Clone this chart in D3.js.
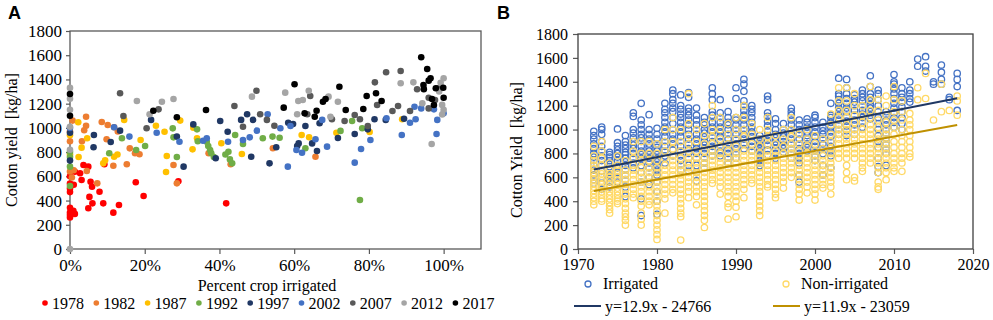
<!DOCTYPE html>
<html>
<head>
<meta charset="utf-8">
<script src="https://cdn.jsdelivr.net/npm/d3@7"></script>
<style>
body { margin: 0; background: #fff; }
text { font-family: "Liberation Serif", "Times New Roman", serif; }
</style>
</head>
<body>
<svg id="chart" width="993" height="320"></svg>
<script>
// ---- panel A data: [percent irrigated, yield kg/ha] per census year
var y1978 = [[0,280],[0,300],[0,260],[0,340],[0,470],[0,500],[0,540],[0,600],[1.3,290],[0.9,315],[1,530],[1.3,638],[2.7,625],[3.1,570],[3.6,694],[4.9,680],[4.9,336],[5.2,430],[5.5,555],[5.9,514],[6,377],[7.9,473],[8.9,377],[9.2,700],[11.6,300],[13.1,363],[17.6,551],[19.7,437],[29,560],[41.8,377]];
var y1982 = [[0.7,1060],[4.3,1092],[4.3,1017],[3.8,980],[3.2,890],[0,890],[0,970],[0,640],[1,650],[0.5,590],[4.5,644],[7.3,542],[8.5,1049],[10.1,1024],[11.8,1005],[12.8,970],[9.8,906],[16,831],[17.4,790],[18.6,782],[11.6,688],[15.2,700],[28.6,542],[27.7,694],[37.1,790],[43,700],[54.3,832],[65.7,762]];
var y1987 = [[0,940],[0,780],[2.2,1046],[4.6,914],[3.1,837],[2.3,760],[8.9,707],[9.4,733],[11.8,762],[12.7,780],[14.5,1066],[18.9,900],[23,1018],[25.3,968],[25.9,768],[25.7,636],[29.5,1060],[33,1002],[32.8,823],[34,914],[40.5,873],[46,785],[62,941],[64,923],[71.3,960],[80.2,966],[88.9,1071]];
var y1992 = [[0,800],[0,760],[0,680],[0,520],[13.9,914],[10.5,790],[17.7,818],[20.1,850],[27.5,996],[27.7,922],[28.6,760],[34,988],[34.2,890],[36.6,886],[37,850],[37.5,818],[37.8,790],[38.5,760],[41.6,780],[42.4,803],[42.8,740],[43.4,707],[44.2,941],[46.3,867],[51.6,914],[54.2,928],[56.1,919],[63,832],[72.4,975],[75.5,1057],[78.2,997],[77.6,405]];
var y1997 = [[0,960],[0,730],[6.4,941],[6.3,840],[13.4,977],[10.9,884],[21.7,1066],[28.6,928],[30.4,680],[33,1029],[39,749],[40.2,1057],[42.2,968],[45.8,1066],[47.4,1112],[49,1066],[48.5,762],[53.4,707],[55.2,840],[58.4,1043],[59.7,1032],[63,1015],[61.2,872],[60.8,850],[64.8,872],[66.1,809],[66.8,1038],[71.7,917],[76.2,950],[79.7,988],[81.5,1071],[84.5,1066],[89.4,1076]];
var y2002 = [[0,1000],[11.8,1005],[15.9,928],[23.2,960],[29.3,886],[35.6,894],[36.6,914],[42.3,886],[46.3,900],[48.1,922],[50,977],[52.9,1112],[56.3,997],[59,1015],[60.6,818],[62.1,795],[58.3,680],[65.7,906],[67.5,1066],[68.8,845],[76.2,713],[77.9,826],[80.4,900],[84.7,1080],[88.8,941],[91,1043],[92.5,1071],[92.2,1175],[94,1161],[97.4,1153],[98.3,1066],[98.1,950],[100,1120]];
var y2007 = [[13.4,1286],[14.3,1098],[20.5,997],[23.7,1153],[44,1181],[46.3,1010],[49.9,1307],[50.9,1112],[52.7,1066],[54.7,1018],[63.5,1112],[64.3,1263],[70.1,1071],[73.5,1057],[76.2,1106],[77.6,1071],[79.7,1015],[81.6,1376],[82.2,1189],[84.6,1459],[86.3,1140],[87.8,1181],[88.5,1470],[91,1140],[92.9,1319],[96,1249],[96,1161],[98.5,1327],[97.7,1230]];
var y2012 = [[0,0],[0,1330],[0,1240],[0,1150],[0,1010],[0,820],[17.9,1222],[21.3,1112],[24.6,1216],[27.7,1239],[48.7,1258],[57.6,1291],[60.8,1112],[61.1,1222],[62.3,1230],[63.9,1307],[69.2,1258],[69.7,1092],[71.7,1216],[88.5,1368],[91.9,1376],[94.3,1203],[96.8,867],[99.2,1373],[100,1410],[99.6,1110],[100,1150],[99.6,1190],[98.8,1300]];
var y2017 = [[0,1280],[0,1100],[22.3,1142],[28.6,1088],[36.4,1148],[57.2,1167],[60.1,1360],[62.8,1120],[65.5,1092],[66,1142],[67.7,1216],[68.4,1239],[72.1,1340],[73.8,1148],[78.5,1156],[79.4,1263],[81.9,1286],[83.4,1222],[94,1583],[95.6,1486],[96.5,1410],[96,1390],[94.6,1354],[94.7,1320],[97.9,1327],[99.9,1332],[96.9,1239],[97.4,1189],[100,1249]];

var censusYears = ["1978","1982","1987","1992","1997","2002","2007","2012","2017"];
var censusData = [y1978, y1982, y1987, y1992, y1997, y2002, y2007, y2012, y2017];
var censusColors = ["#ff0000","#ed7d31","#ffc000","#70ad47","#203864","#4472c4","#595959","#a5a5a5","#000000"];

var pctTicks = [0, 20, 40, 60, 80, 100];
var yieldTicks = [0, 200, 400, 600, 800, 1000, 1200, 1400, 1600, 1800];

// ---- panel B data: county yields per year
var yearsB = [1972,1973,1974,1975,1976,1977,1978,1979,1980,1981,1982,1983,1984,1985,1986,1987,1988,1989,1990,1991,1992,1993,1994,1995,1996,1997,1998,1999,2000,2001,2002,2003,2004,2005,2006,2007,2008,2009,2010,2011,2012,2013,2014,2015,2016,2017,2018];
var irrigated = [
  [985,950,920,880,840,800,770,740,700,660,620,580,550],
  [1020,1000,960,900,860,820,780,740,700,650,600,550,500],
  [810,790,770,740,710,690,660,620,590,560,520],
  [1005,890,860,830,800,770,740,700,680,640,600,560],
  [950,900,870,840,810,790,760,730,700,660,620,580,520,440],
  [1140,1110,1000,970,930,900,870,840,800,760,720,680],
  [1220,1080,1040,1000,960,930,900,860,820,790,760,700,640,560,420,280],
  [1125,1000,960,920,880,850,820,790,760,720,680,600,540],
  [1010,960,920,880,850,820,790,760,730,700,660,620,560,480,400,290],
  [1220,1170,1140,1100,1060,1020,980,940,900,860,820,780,720],
  [1330,1300,1250,1220,1180,1150,1100,1050,1000,960,920,880,830,780],
  [1290,1200,1170,1130,1100,1060,1020,980,940,900,860,820,780,740,700,660],
  [1310,1270,1180,1150,1120,1080,1040,1000,960,920,880,840,800,760,700,650],
  [1180,1120,1080,1040,1000,960,920,880,840,800,760,700,640,570],
  [1100,1060,1040,1000,970,940,900,870,840,800,760,720,680],
  [1350,1300,1250,1150,1120,1100,1060,1020,980,940,900,860,820,780],
  [1250,1140,1100,1060,1020,980,940,900,860,820,780],
  [1150,1100,1060,1040,1000,960,920,880,840,800,760,720],
  [1350,1260,1100,1080,1040,1000,960,920,880,840,800,760],
  [1420,1380,1320,1240,1200,1160,1120,1080,1040,1000,960,920,880,840],
  [1200,1170,1140,1100,1060,1020,980,940,900,860,820],
  [950,920,900,880,860,840,820,800,780,760,740,720,700],
  [1280,1250,1140,1110,1070,1030,990,950,910,870,830,790],
  [1090,1050,1000,960,930,900,870,840,800,760],
  [1050,1000,970,940,900,870,840,810],
  [1180,1150,1120,1080,1040,1000,960,920,880,840,800,760],
  [1080,1040,1000,960,920,880,840,800,760,720,620,560],
  [1090,1060,1020,980,950,920,880,850,820],
  [1120,1100,1060,1020,980,940,900,860,820,780,740],
  [1060,1020,990,960,920,880,840,800,700,620],
  [1220,1120,1100,1060,1020,980,940,900,860,820,780,680],
  [1430,1300,1280,1250,1220,1180,1150,1120,1080,1040,1000,960],
  [1420,1350,1300,1260,1220,1180,1150,1110,1070,1030,990,950],
  [1290,1260,1230,1200,1160,1120,1080,1040,1000,960],
  [1330,1300,1270,1240,1200,1160,1130,1100,1060,1020],
  [1450,1360,1300,1270,1240,1210,1180,1150,1120,1090],
  [1330,1300,1250,1200,1150,1100,1050,1000,950,900,850,760,690,640],
  [1150,1120,1080,1040,1000,960,920,880,840,800,700],
  [1460,1400,1380,1340,1300,1260,1220,1180,1140,1100,1060,1020],
  [1350,1300,1270,1230,1190,1150,1100,1050,1000],
  [1400,1330,1300,1260,1230],
  [1590,1530],
  [1610,1530,1490],
  [1400,1380],
  [1540,1480,1420,1380],
  [1270,1250],
  [1470,1420,1360,1160]
];
var nonIrrigated = [
  [860,780,740,700,670,640,610,580,550,520,490,460,430,400,370],
  [900,820,760,700,660,630,600,570,540,510,480,450,420,400],
  [720,660,630,600,570,540,510,480,450,420,390,360,330,300],
  [780,700,660,630,600,570,540,510,480,450,420,400,380],
  [740,660,620,580,540,500,460,420,380,340,300,270,240,200],
  [900,820,760,700,660,620,580,540,500,460,430],
  [900,800,740,680,640,600,560,520,480,440,400,360,300,250,200],
  [900,800,740,680,640,600,560,520,480,440,400,370],
  [880,800,740,680,640,600,560,520,480,440,400,360,320,280,240,200,160,120,80],
  [1000,900,820,760,700,660,620,580,540,500,460,420,300],
  [1100,1000,900,840,780,740,700,660,620,580,540,500,470],
  [1000,900,820,760,700,660,620,580,540,500,460,420,380,340,300,270,75],
  [1300,1050,950,880,820,760,720,680,640,600,560,520,480,430],
  [1000,900,820,760,720,680,640,600,560,520,480,440,370],
  [1050,950,880,820,760,720,680,640,600,560,520,480,440,400,360,320,280,240,180],
  [1200,1100,1000,940,880,820,780,740,700,660,620,580,550],
  [1100,1000,920,860,800,760,720,680,640,600,560,520,460],
  [1050,960,880,820,760,720,680,640,600,560,520,480,440,380,350,250],
  [1100,1000,920,860,800,760,720,680,640,600,560,520,480,440,400,350,270],
  [1200,1100,1000,940,880,820,780,740,700,660,620,580,540,500,430],
  [1050,960,880,820,780,740,700,660,620,580,550],
  [1000,920,860,800,760,720,680,640,600,560,520,480,440,400,360,320,280],
  [1100,1000,940,880,820,780,740,700,660,620,580,540,520],
  [950,880,820,780,740,700,660,620,580,540,500,460,430],
  [1000,920,860,800,760,720,680,640,600,560,510],
  [1100,1000,940,880,840,800,760,720,680,640,600],
  [960,880,820,780,740,700,660,620,580,540,500,460,410],
  [1000,920,860,800,760,720,680,640,600,560,520,470],
  [950,880,820,780,740,700,660,620,580,540,500,460,410],
  [920,840,780,740,700,660,620,580,540,510],
  [1130,1040,960,900,840,800,760,720,680,640,600,560,520,460],
  [1350,1240,1160,1100,1040,1000,960,920,880,840,800,760],
  [1350,1240,1160,1100,1040,1000,960,920,880,840,800,760,700,640,580],
  [1300,1200,1120,1060,1000,960,920,880,840,800,760,600,570],
  [1200,1120,1060,1000,960,920,880,840,800,760,720,680,650],
  [1360,1250,1160,1100,1040,1000,960,920,880,840,800,760,720],
  [1250,1160,1080,1020,960,920,880,840,800,760,720,680,640,560,520,500],
  [1280,1200,1120,1060,1000,960,920,880,840,800,760,720,680,640,580],
  [1360,1250,1150,1080,1020,960,900,850,800,760,720,680,650],
  [1240,1150,1080,1000,950,900,850,800,760,720,650],
  [1135,1080,1040,1000,950,900,850,800,770],
  [1350,1250],
  [1470,1260],
  [1080],
  [1380,1150],
  [1160],
  [1280,1240,1120]
];
var trendIrr = [[1972, 665], [2018, 1262]];
var trendNon = [[1972, 485], [2018, 1038]];
var yearTicks = [1970, 1980, 1990, 2000, 2010, 2020];

var svg = d3.select("#chart");

function flatten(years, lists){
    var out = [];
    lists.forEach(function(vals, i){
        vals.forEach(function(v){ out.push([years[i], v]); });
    });
    return out;
}

function styleAxis(size){
    return function(g){
        g.attr("font-family", null).attr("font-size", null);
        g.select(".domain").remove();
        g.selectAll(".tick line").attr("stroke", "#595959").attr("stroke-width", 1.2);
        g.selectAll(".tick text").attr("fill", "#000").style("font-size", size + "px");
    };
}

// ===== Panel A
var xA = d3.scaleLinear().domain([0, 110]).range([70, 481]);
var yA = d3.scaleLinear().domain([0, 1800]).range([249, 31]);

svg.append("g").attr("transform", "translate(70,0)")
    .call(d3.axisLeft(yA).tickValues(yieldTicks).tickFormat(d3.format("d")).tickSize(4).tickPadding(4))
    .call(styleAxis(17));
svg.append("g").attr("transform", "translate(0,249)")
    .call(d3.axisBottom(xA).tickValues(pctTicks).tickFormat(function(d){ return d + "%"; }).tickSize(5).tickPadding(5))
    .call(styleAxis(17));

svg.append("rect").attr("x", 70).attr("y", 31).attr("width", 411).attr("height", 218)
    .attr("fill", "none").attr("stroke", "#595959").attr("stroke-width", 1.3);

censusData.forEach(function(pts, i){
    svg.append("g").selectAll("circle").data(pts).enter().append("circle")
        .attr("cx", function(d){ return xA(d[0]); })
        .attr("cy", function(d){ return yA(d[1]); })
        .attr("r", 3.3)
        .attr("fill", censusColors[i]);
});

svg.append("text").attr("x", 267).attr("y", 291).attr("text-anchor", "middle")
    .style("font-size", "16px").text("Percent crop irrigated");
svg.append("text").attr("transform", "translate(17,140) rotate(-90)").attr("text-anchor", "middle")
    .style("font-size", "16px").style("white-space", "pre").text("Cotton yield  [kg/ha]");
svg.append("text").attr("x", 8).attr("y", 19).style("font-family", '"Liberation Sans", Arial, sans-serif')
    .style("font-weight", "bold").style("font-size", "18px").text("A");

var legA = svg.append("g").selectAll("g").data(censusYears).enter().append("g")
    .attr("transform", function(d, i){ return "translate(" + (45 + i * 51.3) + ",303)"; });
legA.append("circle").attr("r", 2.8).attr("fill", function(d, i){ return censusColors[i]; });
legA.append("text").attr("x", 7).attr("y", 5.5).style("font-size", "16px").text(function(d){ return d; });

// ===== Panel B
var xB = d3.scaleLinear().domain([1970, 2020]).range([578, 973]);
var yB = d3.scaleLinear().domain([0, 1800]).range([249, 34]);

svg.append("g").attr("transform", "translate(578,0)")
    .call(d3.axisLeft(yB).tickValues(yieldTicks).tickFormat(d3.format("d")).tickSize(5).tickPadding(5))
    .call(styleAxis(16));
svg.append("g").attr("transform", "translate(0,249)")
    .call(d3.axisBottom(xB).tickValues(yearTicks).tickFormat(d3.format("d")).tickSize(5).tickPadding(5))
    .call(styleAxis(16));

svg.append("rect").attr("x", 578).attr("y", 34).attr("width", 395).attr("height", 215)
    .attr("fill", "none").attr("stroke", "#404040").attr("stroke-width", 1.3);

svg.append("g").selectAll("circle").data(flatten(yearsB, irrigated)).enter().append("circle")
    .attr("cx", function(d){ return xB(d[0]); })
    .attr("cy", function(d){ return yB(d[1]); })
    .attr("r", 3.2).attr("fill", "none").attr("stroke", "#4472c4").attr("stroke-width", 1.3);
svg.append("g").selectAll("circle").data(flatten(yearsB, nonIrrigated)).enter().append("circle")
    .attr("cx", function(d){ return xB(d[0]); })
    .attr("cy", function(d){ return yB(d[1]); })
    .attr("r", 3.2).attr("fill", "none").attr("stroke", "#ffd966").attr("stroke-width", 1.3);

var line = d3.line().x(function(d){ return xB(d[0]); }).y(function(d){ return yB(d[1]); });
svg.append("path").datum(trendIrr).attr("d", line).attr("stroke", "#203864").attr("stroke-width", 2).attr("fill", "none");
svg.append("path").datum(trendNon).attr("d", line).attr("stroke", "#bf9000").attr("stroke-width", 2).attr("fill", "none");

svg.append("text").attr("transform", "translate(522,150) rotate(-90)").attr("text-anchor", "middle")
    .style("font-size", "16px").style("white-space", "pre").text("Cotton Yield  [kg/ha]");
svg.append("text").attr("x", 497).attr("y", 19).style("font-family", '"Liberation Sans", Arial, sans-serif')
    .style("font-weight", "bold").style("font-size", "18px").text("B");

// legend B
var legB = [
    {label: "Irrigated", color: "#4472c4", x: 588, type: "dot"},
    {label: "Non-irrigated", color: "#ffd966", x: 786, type: "dot"},
    {label: "y=12.9x - 24766", color: "#203864", x: 574, type: "line"},
    {label: "y=11.9x - 23059", color: "#bf9000", x: 773, type: "line"}
];
legB.forEach(function(d){
    var g = svg.append("g");
    if (d.type === "dot") {
        g.append("circle").attr("cx", d.x).attr("cy", 284).attr("r", 3)
            .attr("fill", "none").attr("stroke", d.color).attr("stroke-width", 1.3);
        g.append("text").attr("x", d.x + 15).attr("y", 289).style("font-size", "16px").text(d.label);
    } else {
        g.append("line").attr("x1", d.x).attr("x2", d.x + 27).attr("y1", 306).attr("y2", 306)
            .attr("stroke", d.color).attr("stroke-width", 2);
        g.append("text").attr("x", d.x + 31).attr("y", 312).style("font-size", "16px").text(d.label);
    }
});
</script>
</body>
</html>
